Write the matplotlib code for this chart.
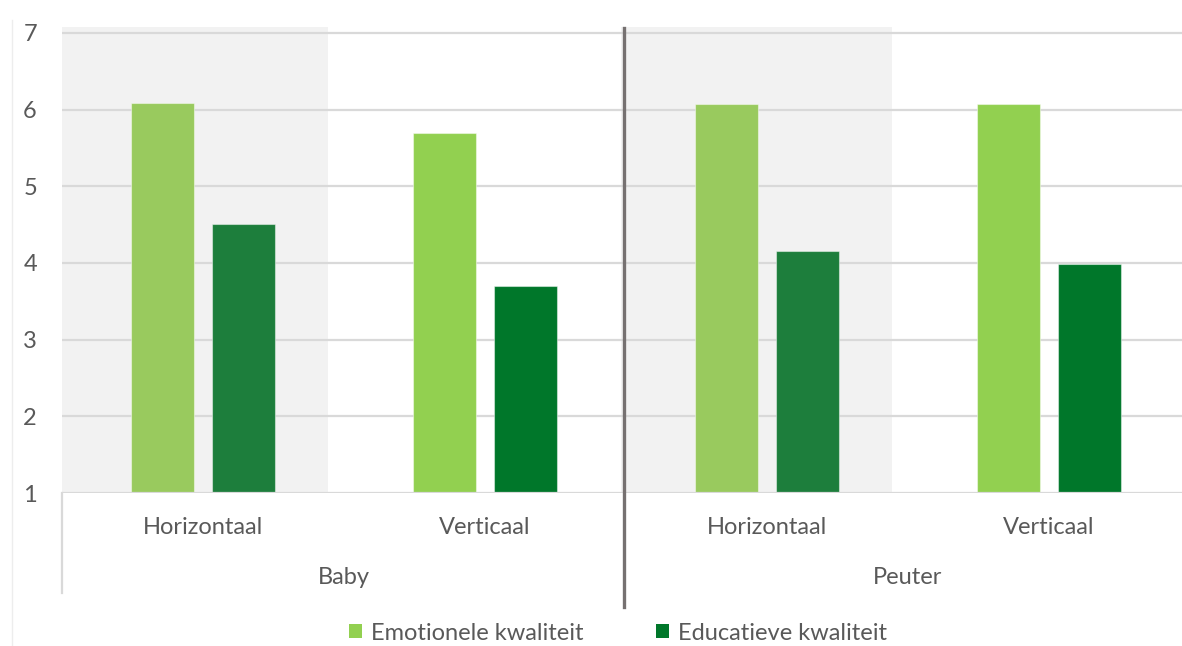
import matplotlib
matplotlib.use("Agg")
import matplotlib.pyplot as plt
from matplotlib.patches import Patch
from matplotlib.transforms import blended_transform_factory
from matplotlib.lines import Line2D

plt.rcParams['font.family'] = ['Lato', 'DejaVu Sans']

groups = ["Baby", "Peuter"]
subcats = ["Horizontaal", "Verticaal", "Horizontaal", "Verticaal"]
series_names = ["Emotionele kwaliteit", "Educatieve kwaliteit"]
emotionele = [6.08, 5.70, 6.07, 6.07]
educatieve = [4.51, 3.70, 4.16, 3.98]

emo_colors = ["#99CA5E", "#92D050", "#99CA5E", "#92D050"]
edu_colors = ["#1D7E3C", "#00772A", "#1D7E3C", "#00772A"]
text_color = "#595959"
grid_color = "#D9D9D9"
FS = 17

W, H = 1182, 646
fig = plt.figure(figsize=(W / 100, H / 100), dpi=100)
ax_left, ax_bottom = 62, 493
unit = 76.7
ymin, ymax = 1, 7.1
ax_top = ax_bottom - (ymax - ymin) * unit
ax = fig.add_axes([ax_left / W, (H - ax_bottom) / H, (W - ax_left) / W, (ax_bottom - ax_top) / H])
ax.set_xlim(-0.5, 3.5 - 8 / 282)
ax.set_ylim(ymin, ymax)

# shaded bands behind the horizontal categories
for i in [0, 2]:
    ax.axvspan(i - 0.518, i + 0.445, ymin=0, ymax=(7.07 - ymin) / (ymax - ymin),
               color="#F2F2F2", zorder=0, lw=0)

# gridlines
for v in range(2, 8):
    ax.axhline(v, color=grid_color, lw=1.6, zorder=1)
ax.axhline(1, color=grid_color, lw=1.6, zorder=3)

x = list(range(4))
bw = 0.224
off = 0.143
ax.bar([xi - off for xi in x], [e - ymin for e in emotionele], bottom=ymin, width=bw,
       color=emo_colors, edgecolor=(1, 1, 1, 0.45), lw=0.8, zorder=2)
ax.bar([xi + off for xi in x], [e - ymin for e in educatieve], bottom=ymin, width=bw,
       color=edu_colors, edgecolor=(1, 1, 1, 0.45), lw=0.8, zorder=2)

for s in ax.spines.values():
    s.set_visible(False)
ax.set_xticks([])
ax.set_yticks(range(1, 8))
ax.tick_params(axis='y', length=0, pad=18, labelsize=FS, labelcolor=text_color)
ax.patch.set_alpha(0)

tr = blended_transform_factory(ax.transData, fig.transFigure)
for i, lab in enumerate(subcats):
    ax.text(i, 1 - 527 / H, lab, transform=tr, ha="center", va="center",
            fontsize=FS, color=text_color)
for g, lab in enumerate(groups):
    ax.text(2 * g + 0.5, 1 - 577 / H, lab, transform=tr, ha="center", va="center",
            fontsize=FS, color=text_color)

# group separator lines
ax.add_line(Line2D([1.493, 1.493], [1 - 28 / H, 1 - 607 / H], transform=tr,
                   color="#767171", lw=2.4, clip_on=False, zorder=5))
ax.add_line(Line2D([-0.5, -0.5], [1 - 493 / H, 1 - 593 / H], transform=tr,
                   color=grid_color, lw=1.6, clip_on=False, zorder=5))
# faint chart border at left
fig.add_artist(Line2D([12 / W, 12 / W], [0, 1 - 20 / H], transform=fig.transFigure,
                      color="#EDEDED", lw=1))

handles = [Patch(facecolor="#92D050", edgecolor="none"),
           Patch(facecolor="#00772A", edgecolor="none")]
fig.legend(handles, series_names, loc="center", bbox_to_anchor=(618 / W, 1 - 633 / H),
           ncol=2, frameon=False, fontsize=FS, labelcolor=text_color,
           handlelength=0.55, handleheight=0.55, handletextpad=0.35, columnspacing=3.1)

fig.savefig("out.png", dpi=100)
